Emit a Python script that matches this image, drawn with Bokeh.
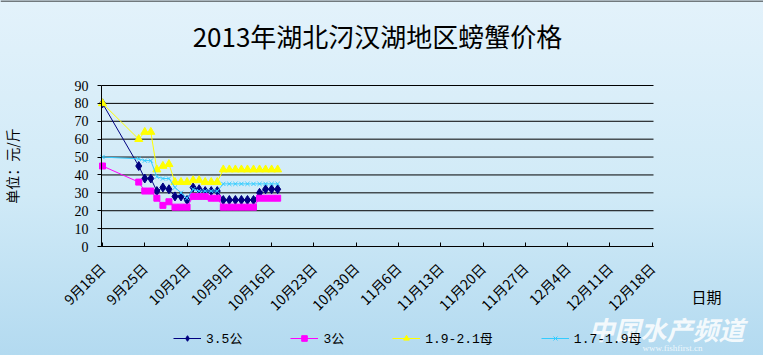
import numpy as np
import pandas as pd
from bokeh.plotting import figure
from bokeh.models import Range1d, FixedTicker, Legend, LegendItem, Label, Span
from bokeh.embed import file_html
from bokeh.resources import INLINE

title_text = "2013年湖北汈汉湖地区螃蟹价格"
y_title = "单位：元/斤"
x_title = "日期"
origin = "2013-09-18"

dates = ["2013-09-18", "2013-09-24", "2013-09-25", "2013-09-26", "2013-09-27",
         "2013-09-28", "2013-09-29", "2013-09-30", "2013-10-01", "2013-10-02",
         "2013-10-03", "2013-10-04", "2013-10-05", "2013-10-06", "2013-10-07",
         "2013-10-08", "2013-10-09", "2013-10-10", "2013-10-11", "2013-10-12",
         "2013-10-13", "2013-10-14", "2013-10-15", "2013-10-16", "2013-10-17"]

series_names = ["3.5公", "3公", "1.9-2.1母", "1.7-1.9母"]
male_35 = [80, 45, 38, 38, 31, 33, 32, 28, 28, 26, 33, 32, 31, 31, 31,
           26, 26, 26, 26, 26, 26, 30, 32, 32, 32]
male_3 = [45, 36, 31, 31, 27, 23, 25, 22, 22, 22, 28, 28, 28, 27, 27,
          22, 22, 22, 22, 22, 22, 27, 27, 27, 27]
female_19_21 = [80, 60, 64, 64, 43, 45, 46, 36, 36, 36, 37, 37, 36, 36, 36,
                43, 43, 43, 43, 43, 43, 43, 43, 43, 43]
female_17_19 = [50, 49, 48, 48, 39, 38, 38, 33, 30, 27, 32, 31, 31, 31, 31,
                35, 35, 35, 35, 35, 35, 35, 35, 35, 35]

tick_dates = ["2013-09-18", "2013-09-25", "2013-10-02", "2013-10-09", "2013-10-16",
              "2013-10-23", "2013-10-30", "2013-11-06", "2013-11-13", "2013-11-20",
              "2013-11-27", "2013-12-04", "2013-12-11", "2013-12-18"]
tick_labels = ["9月18日", "9月25日", "10月2日", "10月9日", "10月16日", "10月23日",
               "10月30日", "11月6日", "11月13日", "11月20日", "11月27日",
               "12月4日", "12月11日", "12月18日"]
y_ticks = [0, 10, 20, 30, 40, 50, 60, 70, 80, 90]
y_min, y_max = 0, 90

t0 = pd.Timestamp(origin)
x_days = [(pd.Timestamp(d) - t0).days for d in dates]
tick_pos = [(pd.Timestamp(d) - t0).days for d in tick_dates]

# ---- layout: the frame covers the whole canvas; the axes sit at fixed data locations
W, H = 763, 355
PX0, PXD = 102.0, 6.04          # pixel of day 0, pixels per day
PY0, PY90 = 246.0, 85.0          # pixel of value 0 and value 90
PYU = (PY0 - PY90) / (y_max - y_min)


def fx(px):
    return (px - PX0) / PXD


def fy(py):
    return (PY0 - py) / PYU


x_lo, x_hi = fx(101), fx(653)

p = figure(width=W, height=H, output_backend="svg", toolbar_location=None,
           x_range=Range1d(fx(0), fx(W)), y_range=Range1d(fy(H), fy(0)),
           min_border=0, min_border_left=0, min_border_right=0,
           min_border_top=0, min_border_bottom=0)
p.background_fill_alpha = 0
p.border_fill_alpha = 0
p.outline_line_color = None
p.styles = {"background": "linear-gradient(180deg, #E3F2FB 0%, #D0EAF7 55%, #B3DAF0 100%)"}

p.xgrid.visible = False
p.ygrid.visible = False
p.segment(x0=[x_lo] * len(y_ticks), x1=[x_hi] * len(y_ticks), y0=y_ticks, y1=y_ticks,
          line_color="black", line_width=1)

xa = p.xaxis[0]
xa.fixed_location = y_min
xa.bounds = (x_lo, x_hi)
xa.ticker = FixedTicker(ticks=tick_pos)
xa.major_label_overrides = {t: l for t, l in zip(tick_pos, tick_labels)}
xa.major_label_orientation = np.pi / 4
xa.major_tick_in = 4
xa.major_tick_out = 0
xa.minor_tick_line_color = None
xa.axis_line_color = "black"
xa.major_tick_line_color = "black"
xa.major_label_text_font = "Noto Sans CJK SC"
xa.major_label_text_font_size = "14px"
xa.major_label_text_color = "black"
xa.major_label_standoff = 19

ya = p.yaxis[0]
ya.fixed_location = x_lo
ya.bounds = (y_min, y_max)
ya.ticker = FixedTicker(ticks=y_ticks)
ya.major_tick_in = 0
ya.major_tick_out = 4
ya.minor_tick_line_color = None
ya.axis_line_color = "black"
ya.major_tick_line_color = "black"
ya.major_label_text_font = "Liberation Serif"
ya.major_label_text_font_size = "14px"
ya.major_label_text_color = "black"
ya.major_label_standoff = 9
ya.axis_label = y_title
ya.axis_label_text_font = "Noto Sans CJK SC"
ya.axis_label_text_font_size = "14px"
ya.axis_label_text_font_style = "normal"
ya.axis_label_text_color = "black"
ya.axis_label_standoff = 50

styles = [
    dict(color="#000080", marker="diamond", size=9),
    dict(color="#FF00FF", marker="square", size=6),
    dict(color="#FFFF00", marker="triangle", size=8),
    dict(color="#33CCFF", marker="x", size=6),
]
values = [male_35, male_3, female_19_21, female_17_19]

items = []
for name, vals, st in zip(series_names, values, styles):
    lr = p.line(x_days, vals, line_color=st["color"], line_width=1)
    sr = p.scatter(x_days, vals, marker=st["marker"], size=st["size"],
                   fill_color=st["color"], line_color=st["color"])
    items.append(LegendItem(label=name, renderers=[lr, sr]))

leg = Legend(items=items, location=(173, 8), orientation="horizontal",
             padding=0, margin=0, spacing=48,
             glyph_width=28, glyph_height=14, label_standoff=5,
             border_line_alpha=0, background_fill_alpha=0,
             label_text_font="Liberation Mono, Noto Sans CJK SC",
             label_text_font_size="13px", label_text_color="black")
p.add_layout(leg, "center")

p.add_layout(Span(location=fy(0.5), dimension="width", line_color="black", line_width=1))

p.add_layout(Label(x=fx(377), y=fy(35), text=title_text, text_align="center",
                   text_baseline="middle", text_font="Noto Sans CJK SC",
                   text_font_size="26px", text_color="black"))
p.add_layout(Label(x=fx(706), y=fy(296), text=x_title, text_align="center",
                   text_baseline="middle", text_font="Noto Sans CJK SC",
                   text_font_size="15px", text_color="black"))
p.add_layout(Label(x=fx(666), y=fy(328), text="中国水产频道", text_align="center",
                   text_baseline="middle", text_font="Noto Sans CJK SC",
                   text_font_size="26px", text_font_style="bold italic",
                   text_color="white", text_alpha=0.85))
p.add_layout(Label(x=fx(672), y=fy(347), text="www.fishfirst.cn", text_align="center",
                   text_baseline="middle", text_font="Liberation Serif",
                   text_font_size="9px", text_color="white", text_alpha=0.8))

open("out.html", "w").write(file_html(p, INLINE))
